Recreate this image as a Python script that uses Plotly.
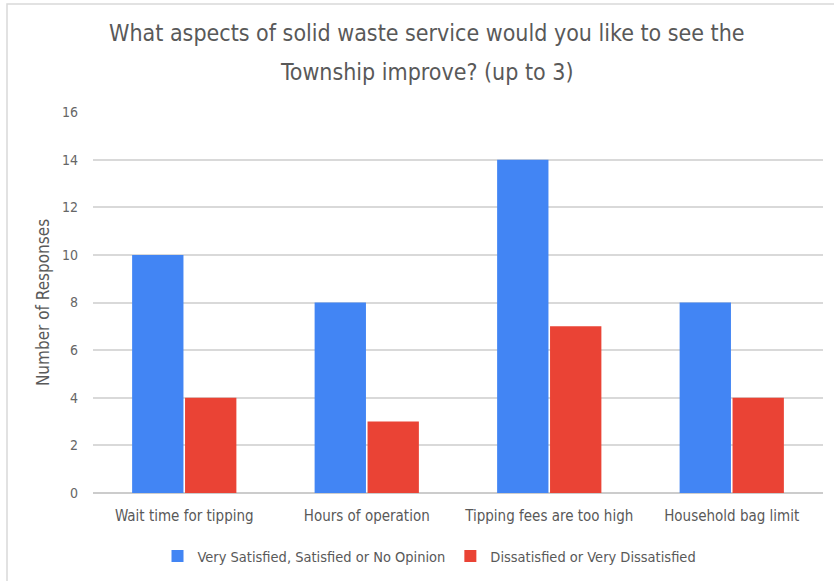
import plotly.graph_objects as go

# Survey results
categories = ["Wait time for tipping", "Hours of operation",
              "Tipping fees are too high", "Household bag limit"]
satisfied = [10, 8, 14, 8]
dissatisfied = [4, 3, 7, 4]
series_names = ["Very Satisfied, Satisfied or No Opinion",
                "Dissatisfied or Very Dissatisfied"]
y_ticks = [0, 2, 4, 6, 8, 10, 12, 14, 16]

FONT = "DejaVu Sans Condensed, Liberation Sans Narrow, Arial Narrow, sans-serif"
TEXT = "#595959"

fig = go.Figure()
fig.add_trace(go.Bar(x=categories, y=satisfied, name=series_names[0],
                     marker=dict(color="#4285F4", line=dict(width=0))))
fig.add_trace(go.Bar(x=categories, y=dissatisfied, name=series_names[1],
                     marker=dict(color="#EA4335", line=dict(width=0))))

W, H = 834, 581
L, R, T, B = 93, 11, 112, 88
pw, ph = W - L - R, H - T - B

def px_x(x):
    return (x - L) / pw

def px_y(y):
    return (H - B - y) / ph

fig.update_layout(
    width=W, height=H,
    margin=dict(l=L, r=R, t=T, b=B),
    paper_bgcolor="white", plot_bgcolor="white",
    font=dict(family=FONT, color=TEXT),
    barmode="group", bargap=0.42, bargroupgap=0.03,
    showlegend=True,
    legend=dict(orientation="h", xref="container", yref="container",
                x=0.515, y=0.043, xanchor="center", yanchor="middle",
                font=dict(size=14.5, color=TEXT, family=FONT),
                itemwidth=30, traceorder="normal"),
    xaxis=dict(showgrid=False, showline=False, ticks="",
               ticklabelstandoff=12,
               tickfont=dict(size=15, color=TEXT, family=FONT)),
    yaxis=dict(range=[0, 16], tickvals=y_ticks, showgrid=True,
               gridcolor="#d9d9d9", gridwidth=1.5, zeroline=True,
               zerolinecolor="#cccccc", zerolinewidth=1.5, showline=False,
               ticks="", ticklabelstandoff=14,
               tickfont=dict(size=14, color="#666666", family=FONT),
               title=dict(text="Number of Responses", standoff=8,
                          font=dict(size=17, color=TEXT, family=FONT))),
    annotations=[
        dict(text="What aspects of solid waste service would you like to see the",
             xref="paper", yref="paper", x=px_x(427), y=px_y(33),
             xanchor="center", yanchor="middle", showarrow=False,
             font=dict(size=23, color=TEXT, family=FONT)),
        dict(text="Township improve? (up to 3)",
             xref="paper", yref="paper", x=px_x(427), y=px_y(72),
             xanchor="center", yanchor="middle", showarrow=False,
             font=dict(size=23, color=TEXT, family=FONT)),
    ],
    shapes=[dict(type="rect", xref="paper", yref="paper",
                 x0=px_x(7), x1=px_x(900), y0=px_y(640), y1=px_y(4),
                 line=dict(color="#d9d9d9", width=1.5), layer="below")],
)

fig.write_html("out.html")
